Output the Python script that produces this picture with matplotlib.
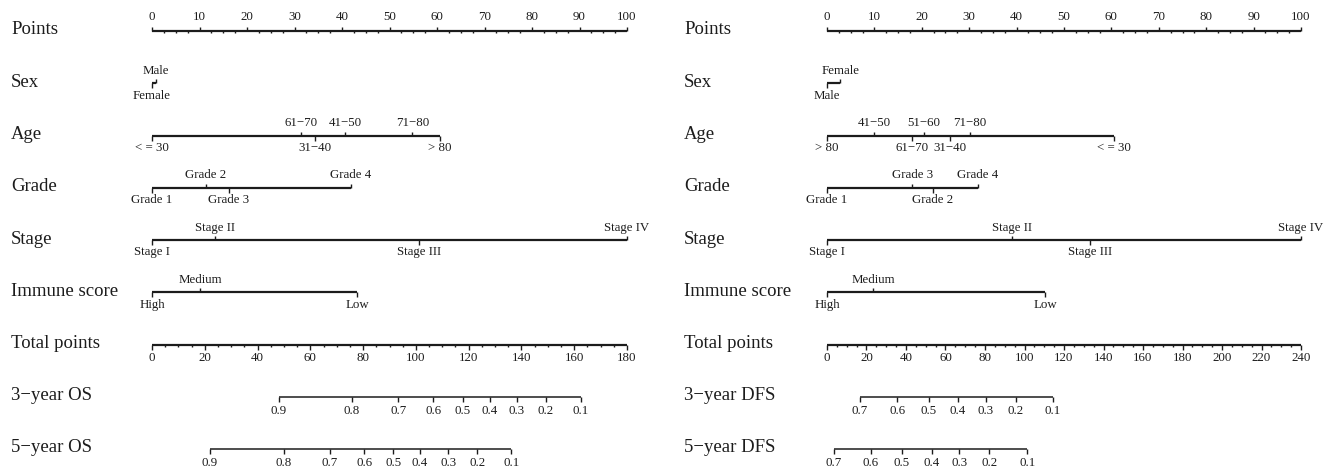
import matplotlib
matplotlib.use("Agg")
import matplotlib.pyplot as plt
from matplotlib import transforms
from matplotlib.path import Path
import numpy as np

# ---------------- data ----------------
row_names_left = ["Points", "Sex", "Age", "Grade", "Stage", "Immune score",
                  "Total points", "3\u2212year OS", "5\u2212year OS"]
row_names_right = ["Points", "Sex", "Age", "Grade", "Stage", "Immune score",
                   "Total points", "3\u2212year DFS", "5\u2212year DFS"]

M = "\u2212"
# left nomogram (OS)
sex_L_levels = ["Female", "Male"]
sex_L_points = [0, 0.8]
age_L_levels = ["< = 30", f"61{M}70", f"31{M}40", f"41{M}50", f"71{M}80", "> 80"]
age_L_points = [0, 31.3, 34.3, 40.6, 54.8, 60.6]
grade_L_levels = ["Grade 1", "Grade 2", "Grade 3", "Grade 4"]
grade_L_points = [0, 11.3, 16.2, 41.9]
stage_L_levels = ["Stage I", "Stage II", "Stage III", "Stage IV"]
stage_L_points = [0, 13.2, 56.2, 100]
immune_L_levels = ["High", "Medium", "Low"]
immune_L_points = [0, 10.1, 43.2]
total_L_max = 180
os_probs = ["0.9", "0.8", "0.7", "0.6", "0.5", "0.4", "0.3", "0.2", "0.1"]
os3_total = [48.0, 75.8, 93.4, 106.6, 117.8, 128.0, 138.2, 149.2, 162.4]
os5_total = [21.9, 49.9, 67.5, 80.4, 91.4, 101.6, 112.2, 123.2, 136.1]

# right nomogram (DFS)
sex_R_levels = ["Male", "Female"]
sex_R_points = [0, 2.8]
age_R_levels = ["> 80", f"41{M}50", f"61{M}70", f"51{M}60", f"31{M}40", f"71{M}80", "< = 30"]
age_R_points = [0, 10.0, 17.9, 20.4, 26.0, 30.2, 60.6]
grade_R_levels = ["Grade 1", "Grade 3", "Grade 2", "Grade 4"]
grade_R_points = [0, 18.0, 22.3, 31.8]
stage_R_levels = ["Stage I", "Stage II", "Stage III", "Stage IV"]
stage_R_points = [0, 39.0, 55.5, 100]
immune_R_levels = ["High", "Medium", "Low"]
immune_R_points = [0, 9.8, 46.0]
total_R_max = 240
dfs_probs = ["0.7", "0.6", "0.5", "0.4", "0.3", "0.2", "0.1"]
dfs3_total = [16.7, 35.5, 51.4, 66.2, 80.3, 95.7, 114.3]
dfs5_total = [3.4, 22.3, 37.9, 53.1, 67.0, 82.2, 101.5]

# label sides (style): +1 above, -1 below
sides_L = {
    "Sex": [-1, 1],
    "Age": [-1, 1, -1, 1, 1, -1],
    "Grade": [-1, 1, -1, 1],
    "Stage": [-1, 1, -1, 1],
    "Immune score": [-1, 1, -1],
}
sides_R = {
    "Sex": [-1, 1],
    "Age": [-1, 1, -1, 1, -1, 1, -1],
    "Grade": [-1, 1, -1, 1],
    "Stage": [-1, 1, -1, 1],
    "Immune score": [-1, 1, -1],
}

# ---------------- drawing ----------------
W, H, DPI = 1333, 472, 100
fig = plt.figure(figsize=(W / DPI, H / DPI), dpi=DPI)
plt.rcParams["font.family"] = ["Liberation Serif", "DejaVu Serif"]

INK = "#1c1c1c"
BIG = 13.5
SMALL = 9.3
ROW_TOP_PX, ROW_BOT_PX = 31, 449
PX = 72.0 / DPI  # points per pixel

TICK_UP = Path([(0, 0), (0, 1)])
TICK_DN = Path([(0, 0), (0, -1)])


def px_off(ax, dy_px):
    return transforms.offset_copy(ax.transData, fig=fig, x=0, y=dy_px * PX, units="points")


def tick(ax, x, y, length_px, up, lw=1.0):
    # one-sided tick: marker path is normalised so its length = markersize/2
    ax.plot([x], [y], linestyle="none", marker=TICK_UP if up else TICK_DN,
            markersize=2 * length_px * PX, mew=lw, color=INK, clip_on=False)


def make_panel(x0_px, x1_px, label_x_px, names, variables, sides, total_max,
               surv, probs):
    ax = fig.add_axes([x0_px / W, 1 - ROW_BOT_PX / H, (x1_px - x0_px) / W,
                       (ROW_BOT_PX - ROW_TOP_PX) / H])
    ax.set_xlim(0, 100)
    ax.set_ylim(len(names) - 1, 0)
    ax.axis("off")

    lab_tr = transforms.blended_transform_factory(fig.transFigure, ax.transData)
    lab_tr = lab_tr + transforms.ScaledTranslation(0, 1 * PX / 72, fig.dpi_scale_trans)
    for i, nm in enumerate(names):
        ax.text(label_x_px / W, i, nm, transform=lab_tr, ha="left", va="center",
                fontsize=BIG, color=INK)

    # Points axis (row 0)
    ax.plot([0, 100], [0, 0], color=INK, lw=1.6, solid_capstyle="butt", clip_on=False)
    for v in np.arange(0, 100.01, 2.5):
        major = abs(v % 10) < 1e-6
        if major:
            tick(ax, v, 0, 4.5, True)
            ax.text(v, 0, f"{int(v)}", transform=px_off(ax, 8.5), ha="center",
                    va="bottom", fontsize=SMALL, color=INK)
        else:
            tick(ax, v, 0, 2.5, False)

    # variable rows
    for r, (vname, levels, pts) in enumerate(variables, start=1):
        sd = sides[vname]
        ax.plot([min(pts), max(pts)], [r, r], color=INK, lw=1.6,
                solid_capstyle="butt", clip_on=False)
        for lev, p, s in zip(levels, pts, sd):
            tick(ax, p, r, 4.5, s > 0)
            if s > 0:
                ax.text(p, r, lev, transform=px_off(ax, 6.5), ha="center",
                        va="bottom", fontsize=SMALL, color=INK)
            else:
                ax.text(p, r, lev, transform=px_off(ax, -6.5), ha="center",
                        va="top", fontsize=SMALL, color=INK)

    # Total points row
    rt = 6
    sc = 100.0 / total_max
    ax.plot([0, 100], [rt, rt], color=INK, lw=1.6, solid_capstyle="butt", clip_on=False)
    for v in np.arange(0, total_max + 0.01, 5):
        major = abs(v % 20) < 1e-6
        tick(ax, v * sc, rt, 4.5 if major else 2.5, False)
        if major:
            ax.text(v * sc, rt, f"{int(v)}", transform=px_off(ax, -7.5), ha="center",
                    va="top", fontsize=SMALL, color=INK)

    # survival rows
    for k, tot in enumerate(surv):
        r = 7 + k
        xs = [t * sc for t in tot]
        ax.plot([min(xs), max(xs)], [r, r], color=INK, lw=1.1,
                solid_capstyle="butt", clip_on=False)
        for x, lab in zip(xs, probs):
            tick(ax, x, r, 5, False)
            ax.text(x, r, lab, transform=px_off(ax, -8), ha="center", va="top",
                    fontsize=SMALL, color=INK)
    return ax


vars_L = [("Sex", sex_L_levels, sex_L_points),
          ("Age", age_L_levels, age_L_points),
          ("Grade", grade_L_levels, grade_L_points),
          ("Stage", stage_L_levels, stage_L_points),
          ("Immune score", immune_L_levels, immune_L_points)]
vars_R = [("Sex", sex_R_levels, sex_R_points),
          ("Age", age_R_levels, age_R_points),
          ("Grade", grade_R_levels, grade_R_points),
          ("Stage", stage_R_levels, stage_R_points),
          ("Immune score", immune_R_levels, immune_R_points)]

make_panel(152, 627, 11, row_names_left, vars_L, sides_L, total_L_max,
           [os3_total, os5_total], os_probs)
make_panel(827, 1301, 684, row_names_right, vars_R, sides_R, total_R_max,
           [dfs3_total, dfs5_total], dfs_probs)

fig.savefig("out.png", dpi=DPI)
